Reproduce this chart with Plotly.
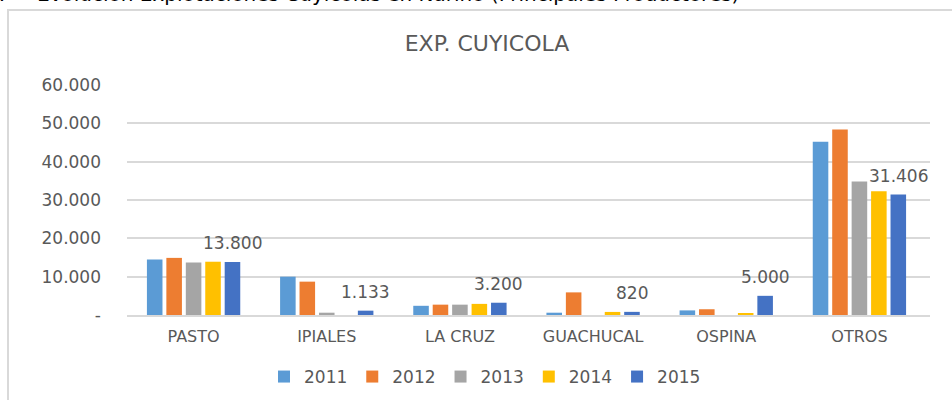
import plotly.graph_objects as go

categories = ["PASTO", "IPIALES", "LA CRUZ", "GUACHUCAL", "OSPINA", "OTROS"]
years = ["2011", "2012", "2013", "2014", "2015"]
v2011 = [14500, 10000, 2400, 600, 1200, 45200]
v2012 = [14900, 8700, 2700, 5900, 1500, 48400]
v2013 = [13700, 600, 2700, None, None, 34800]
v2014 = [13900, None, 2900, 800, 300, 32300]
v2015 = [13800, 1133, 3200, 820, 5000, 31406]
series = [v2011, v2012, v2013, v2014, v2015]
colors = ["#5B9BD5", "#ED7D31", "#A5A5A5", "#FFC000", "#4472C4"]
tick_vals = [0, 10000, 20000, 30000, 40000, 50000, 60000]
tick_text = ["-", "10.000", "20.000", "30.000", "40.000", "50.000", "60.000"]

FONT = "DejaVu Sans"
GREY = "#595959"

def fmt(v):
    return f"{v:,}".replace(",", ".")

fig = go.Figure()
for name, vals, col in zip(years, series, colors):
    fig.add_trace(go.Bar(x=categories, y=vals, name=name, marker_color=col,
                         marker_line_width=0))

# data labels on the last series
slot = 803 / 6 * (1 - 0.27) / 5
for c, v in zip(categories, v2015):
    fig.add_annotation(x=c, y=v, xref="x", yref="y", text=fmt(v), showarrow=False,
                       xshift=2 * slot, yshift=19, yanchor="middle",
                       font=dict(family=FONT, size=17, color=GREY))

# heading text cut at top of the picture
fig.add_annotation(xref="paper", yref="paper", x=(35 - 127) / 803, y=(315 + 6) / 230,
                   xanchor="left", yanchor="middle", showarrow=False,
                   text="Evolución Explotaciones Cuyícolas en Nariño (Principales Productores)",
                   font=dict(family=FONT, size=20, color="#000000"))
fig.add_annotation(xref="paper", yref="paper", x=(7 - 127) / 803, y=(315 + 6) / 230,
                   xanchor="right", yanchor="middle", showarrow=False,
                   text="4.", font=dict(family=FONT, size=20, color="#000000"))

# chart frame
fig.add_shape(type="rect", xref="paper", yref="paper",
              x0=(8 - 127) / 803, x1=(965 - 127) / 803,
              y0=(315 - 420) / 230, y1=(315 - 10) / 230,
              line=dict(color="#D9D9D9", width=2), fillcolor="rgba(0,0,0,0)", layer="below")

fig.update_layout(
    width=952, height=400,
    margin=dict(l=127, r=22, t=85, b=85, autoexpand=False),
    paper_bgcolor="white", plot_bgcolor="white",
    barmode="group", bargap=0.27, bargroupgap=0.2,
    title=dict(text="EXP. CUYICOLA", x=487 / 952, xanchor="center",
               y=1 - 43 / 400, yanchor="middle",
               font=dict(family=FONT, size=22, color=GREY)),
    font=dict(family=FONT, color=GREY),
    showlegend=True,
    legend=dict(orientation="h", x=(485 - 127) / 803, xanchor="center",
                y=(315 - 377) / 230, yanchor="middle",
                font=dict(family=FONT, size=17, color=GREY),
                bgcolor="rgba(0,0,0,0)"),
    xaxis=dict(showgrid=False, showline=True, linecolor="#D9D9D9", linewidth=2,
               tickfont=dict(family=FONT, size=16, color=GREY), ticks="",
               ticklabelstandoff=6, fixedrange=True),
    yaxis=dict(range=[0, 60000], tickvals=tick_vals, ticktext=tick_text,
               showgrid=True, gridcolor="#D9D9D9", gridwidth=1.5,
               zeroline=False, showline=False, ticks="",
               ticklabelstandoff=25,
               tickfont=dict(family=FONT, size=17, color=GREY)),
)

fig.write_html("out.html", config={"displayModeBar": False},
               post_script="document.body.style.margin='0';document.body.style.overflow='hidden';")
